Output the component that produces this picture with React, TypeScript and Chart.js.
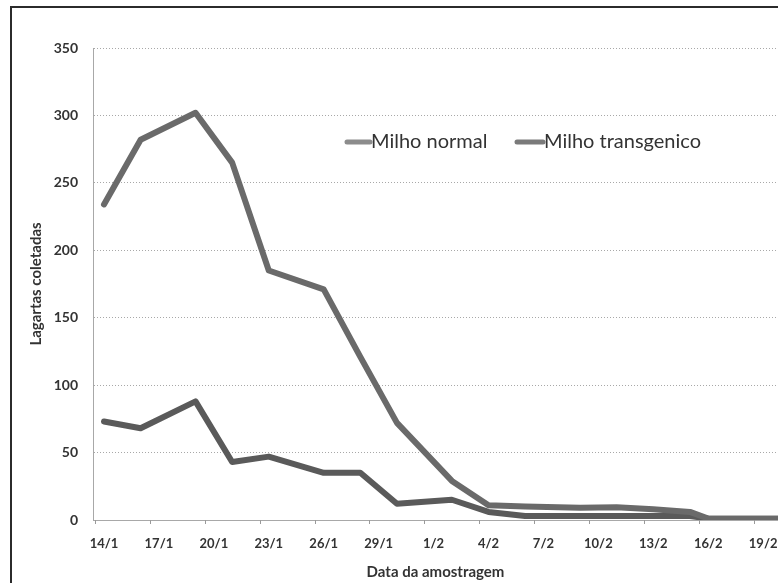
import { useEffect, useRef } from "react";
import { Chart, registerables } from "chart.js";

Chart.register(...registerables);

// Sampling day (day of year: Jan = 1..31, Feb = 32..)
const sampleDays = [14, 16, 19, 21, 23, 26, 28, 30, 33, 35, 37, 40, 42, 44, 46, 47, 49, 51];
const milhoNormal = [234, 282, 302, 265, 185, 171, 121, 72, 29, 11, 10, 9, 9.5, 8, 6, 1, 1, 1];
const milhoTransgenico = [73, 68, 88, 43, 47, 35, 35, 12, 15, 6, 3, 3, 3, 3, 3, 1, 1, 1];

const tickDays = [14, 17, 20, 23, 26, 29, 32, 35, 38, 41, 44, 47, 50];
const tickLabels = ["14/1", "17/1", "20/1", "23/1", "26/1", "29/1", "1/2", "4/2", "7/2", "10/2", "13/2", "16/2", "19/2"];
const seriesNames = ["Milho normal", "Milho transgenico"];
const seriesColors = ["#6a6a6a", "#5a5a5a"];
const legendColors = ["#8c8c8c", "#7a7a7a"];

const FONT = "Lato, 'Open Sans', sans-serif";

const decorPlugin = {
  id: "decor",
  afterDraw(chart: any) {
    const ctx = chart.ctx as CanvasRenderingContext2D;
    const xs = chart.scales.x;
    const ys = chart.scales.y;
    ctx.save();
    // outer frame (left + top)
    ctx.strokeStyle = "#2b2b2b";
    ctx.lineWidth = 2;
    ctx.beginPath();
    ctx.moveTo(11, 583);
    ctx.lineTo(11, 7);
    ctx.lineTo(778, 7);
    ctx.stroke();
    // x tick marks between day slots
    const y0 = ys.getPixelForValue(0);
    ctx.strokeStyle = "#9a9a9a";
    ctx.lineWidth = 1;
    ctx.beginPath();
    tickDays.forEach((d) => {
      const px = Math.round(xs.getPixelForValue(d - 0.5)) + 0.5;
      ctx.moveTo(px, y0);
      ctx.lineTo(px, y0 + 4);
    });
    ctx.stroke();
    // legend
    const ly = 142;
    const items = [
      { x0: 347, x1: 370 },
      { x0: 517, x1: 543 },
    ];
    ctx.font = `20px ${FONT}`;
    ctx.textBaseline = "middle";
    ctx.textAlign = "left";
    chart.data.datasets.forEach((ds: any, i: number) => {
      const it = items[i];
      ctx.strokeStyle = legendColors[i];
      ctx.lineWidth = 5;
      ctx.lineCap = "round";
      ctx.beginPath();
      ctx.moveTo(it.x0, ly);
      ctx.lineTo(it.x1, ly);
      ctx.stroke();
      ctx.fillStyle = "#333333";
      ctx.fillText(ds.label, it.x1 + 1, ly);
    });
    ctx.restore();
  },
};

export default function App() {
  const ref = useRef<HTMLCanvasElement | null>(null);

  useEffect(() => {
    if (!ref.current) return;
    const chart = new Chart(ref.current, {
      type: "line",
      data: {
        datasets: [
          {
            label: seriesNames[0],
            data: sampleDays.map((d, i) => ({ x: d, y: milhoNormal[i] })),
            borderColor: seriesColors[0],
            borderWidth: 6,
            pointRadius: 0,
            tension: 0,
            borderJoinStyle: "round",
            borderCapStyle: "round",
          },
          {
            label: seriesNames[1],
            data: sampleDays.map((d, i) => ({ x: d, y: milhoTransgenico[i] })),
            borderColor: seriesColors[1],
            borderWidth: 6,
            pointRadius: 0,
            tension: 0,
            borderJoinStyle: "round",
            borderCapStyle: "round",
          },
        ],
      },
      options: {
        animation: false,
        responsive: false,
        devicePixelRatio: 1,
        layout: { padding: { left: 0, top: 48, right: 0, bottom: 0 } },
        plugins: {
          legend: { display: false },
          tooltip: { enabled: false },
        },
        scales: {
          x: {
            type: "linear",
            min: 13.4,
            max: 50.81,
            afterFit: (s: any) => {
              s.height = 63;
              s.paddingLeft = 0;
              s.paddingRight = 0;
            },
            afterBuildTicks: (s: any) => {
              s.ticks = tickDays.map((v) => ({ value: v }));
            },
            grid: { display: false },
            border: { display: true, color: "#a8a8a8", width: 1 },
            ticks: {
              autoSkip: false,
              maxRotation: 0,
              minRotation: 0,
              padding: 8,
              color: "#333333",
              font: { family: FONT, size: 13, weight: "bold" },
              callback: (_v: any, i: number) => tickLabels[i],
            },
            title: {
              display: true,
              text: "Data da amostragem",
              color: "#333333",
              font: { family: FONT, size: 15, weight: "bold" },
              padding: { top: 0, bottom: 2 },
            },
          },
          y: {
            min: 0,
            max: 350,
            afterFit: (s: any) => {
              s.width = 93;
            },
            ticks: {
              stepSize: 50,
              padding: 15,
              color: "#333333",
              font: { family: FONT, size: 14, weight: "bold" },
            },
            grid: { color: "#a8a8a8", lineWidth: 1, drawTicks: false },
            border: { display: true, color: "#a8a8a8", width: 1, dash: [1, 2] },
            title: {
              display: true,
              text: "Lagartas coletadas",
              color: "#333333",
              font: { family: FONT, size: 15, weight: "bold" },
              padding: { top: 27, bottom: 0 },
            },
          },
        },
      },
      plugins: [decorPlugin],
    } as any);
    return () => chart.destroy();
  }, []);

  return (
    <div style={{ position: "fixed", left: 0, top: 0, width: 778, height: 583, background: "#fff", overflow: "hidden" }}>
      <canvas ref={ref} width={778} height={583} style={{ display: "block" }} />
    </div>
  );
}
